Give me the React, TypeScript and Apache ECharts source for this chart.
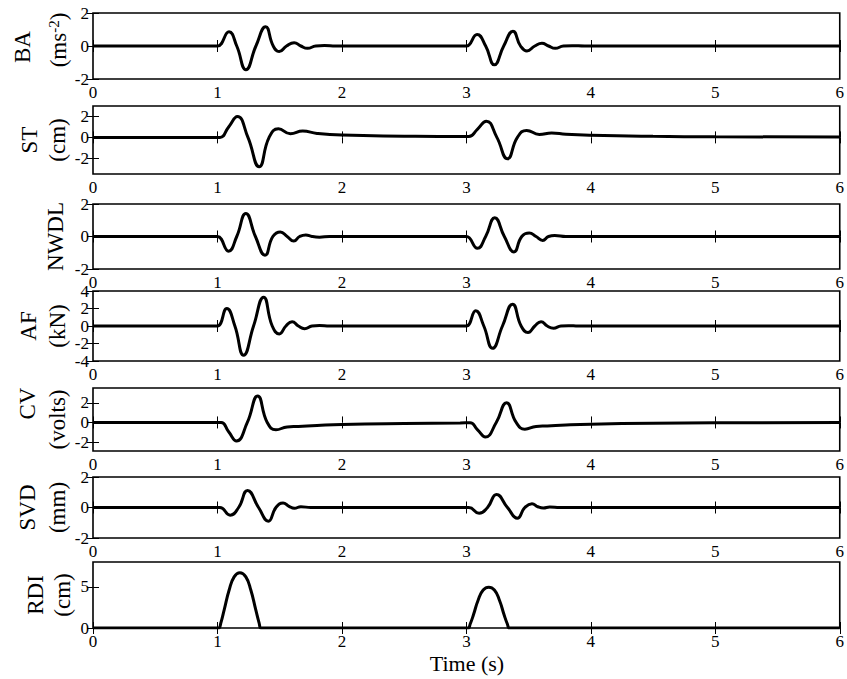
import React, { useEffect, useRef } from "react";
import * as echarts from "echarts";

const FONT = '"Liberation Serif", "Times New Roman", serif';

type Pt = [number, number];

const baData: Pt[] = [[0,0],[0.95,0],[1.0,0],[1.093,0.86],[1.155,0],[1.229,-1.44],[1.309,0],[1.387,1.16],[1.448,0],[1.496,-0.34],[1.555,0],[1.616,0.2],[1.67,0],[1.723,-0.14],[1.79,0],[1.86,0.03],[1.95,0],[2.5,0],[2.95,0],[3.0,0],[3.086,0.7],[3.155,0],[3.225,-1.14],[3.3,0],[3.374,0.9],[3.435,0],[3.487,-0.3],[3.55,0],[3.607,0.16],[3.66,0],[3.714,-0.14],[3.78,0],[3.85,0.02],[3.95,0],[4.5,0],[6,0]];

const stData: Pt[] = [[0,0],[0.97,0],[1.02,0],[1.09,1.0],[1.16,2.0],[1.245,0],[1.335,-2.8],[1.415,0],[1.49,0.83],[1.586,0.35],[1.685,0.6],[1.8,0.38],[2.0,0.22],[2.5,0.12],[2.97,0.08],[3.02,0.08],[3.09,0.8],[3.16,1.55],[3.245,0],[3.33,-2.05],[3.41,0],[3.484,0.67],[3.586,0.28],[3.685,0.43],[3.8,0.3],[4.0,0.2],[4.5,0.1],[5.0,0.06],[6,0.03]];

const nwdlData: Pt[] = [[0,0],[0.95,0],[1.0,0],[1.089,-0.9],[1.155,0],[1.228,1.42],[1.305,0],[1.382,-1.15],[1.445,0],[1.505,0.28],[1.56,0],[1.613,-0.28],[1.66,0],[1.71,0.1],[1.76,0],[1.82,-0.04],[1.9,0],[2.95,0],[3.0,0],[3.089,-0.72],[3.155,0],[3.228,1.15],[3.305,0],[3.382,-0.95],[3.445,0],[3.505,0.22],[3.56,0],[3.613,-0.24],[3.66,0],[3.71,0.06],[3.8,0],[6,0]];

const afData: Pt[] = [[0,0],[0.95,0],[1.0,0],[1.075,2.0],[1.14,0],[1.21,-3.35],[1.29,0],[1.371,3.3],[1.44,0],[1.497,-0.9],[1.55,0],[1.6,0.5],[1.65,0],[1.7,-0.3],[1.76,0],[1.82,0.05],[1.9,0],[2.95,0],[3.0,0],[3.075,1.75],[3.14,0],[3.21,-2.55],[3.29,0],[3.371,2.5],[3.44,0],[3.495,-0.75],[3.55,0],[3.6,0.5],[3.65,0],[3.7,-0.25],[3.76,0],[3.82,0.04],[3.9,0],[6,0]];

const cvData: Pt[] = [[0,0],[0.97,0],[1.03,0],[1.09,-0.95],[1.153,-1.88],[1.24,0],[1.323,2.7],[1.4,0],[1.47,-0.75],[1.56,-0.45],[1.65,-0.4],[1.8,-0.3],[2.0,-0.2],[2.5,-0.1],[2.95,-0.05],[3.03,-0.03],[3.09,-0.75],[3.153,-1.48],[3.24,0],[3.323,2.0],[3.4,0],[3.47,-0.68],[3.56,-0.4],[3.65,-0.35],[3.8,-0.25],[4.0,-0.17],[4.5,-0.08],[5.0,-0.03],[6,0]];

const svdData: Pt[] = [[0,0],[0.97,0],[1.02,0],[1.102,-0.5],[1.17,0],[1.242,1.12],[1.33,0],[1.409,-0.9],[1.47,0],[1.527,0.3],[1.575,0.08],[1.618,-0.05],[1.67,0.05],[1.75,0],[2.97,0],[3.02,0],[3.102,-0.38],[3.17,0],[3.242,0.86],[3.33,0],[3.409,-0.7],[3.47,0],[3.527,0.25],[3.575,0.05],[3.618,-0.03],[3.67,0.03],[3.75,0],[6,0]];

const rdiData: Pt[] = [[0,0],[0.98,0],[1.01,0],[1.027,0.6],[1.054,2.2],[1.094,4.6],[1.134,6.2],[1.18,6.7],[1.228,6.2],[1.268,4.6],[1.308,2.2],[1.335,0.6],[1.35,0],[1.38,0],[2.98,0],[3.015,0],[3.03,0.45],[3.057,1.6],[3.095,3.4],[3.135,4.6],[3.18,4.95],[3.225,4.6],[3.265,3.4],[3.303,1.6],[3.33,0.45],[3.345,0],[3.38,0],[6,0]];

const labelLine1 = ["BA", "ST", "", "AF", "CV", "SVD", "RDI"];
const labelLine2 = ["{a|(ms}{s|-2}{a|)}", "(cm)", "NWDL", "(kN)", "(volts)", "(mm)", "(cm)"];
const yMins = [-2, -3.5, -2, -4, -2.9, -2, 0];
const yMaxs = [2, 3, 2, 4, 3.5, 2, 8];
const yTicks = [[-2, 0, 2], [-2, 0, 2], [-2, 0, 2], [-4, -2, 0, 2, 4], [-2, 0, 2], [-2, 0, 2], [0, 5]];
const seriesData = [baData, stData, nwdlData, afData, cvData, svdData, rdiData];
const xTitle = "Time (s)";

// layout (pixels)
const panelTops = [13, 106, 204, 291, 388, 477, 562];
const panelHeights = [66, 68, 65, 70, 63, 61, 66];
const line1X = [22, 29, 0, 28, 27, 27, 35];
const line2X = [58, 57, 55, 57, 57, 57, 62];
const line1DY = [1, 0, 0, 0, -16, 0, 0];
const line2DY = [-6, 0, 0, 0, 0, 0, 0];

export default function App() {
  const ref = useRef<HTMLDivElement>(null);
  useEffect(() => {
    if (!ref.current) return;
    const chart = echarts.init(ref.current, null, { renderer: "svg" });
    const grids: any[] = [];
    const xAxes: any[] = [];
    const yAxes: any[] = [];
    const series: any[] = [];
    const graphics: any[] = [];
    const tickStyle = { color: "#000", width: 1 };
    for (let i = 0; i < 7; i++) {
      grids.push({
        left: 93, width: 749, top: panelTops[i], height: panelHeights[i],
        show: true, borderColor: "#000", borderWidth: 1.6, backgroundColor: "transparent",
      });
      const xBase = {
        gridIndex: i, type: "value", min: 0, max: 6, interval: 1,
        axisLine: { show: false }, splitLine: { show: false },
        axisTick: { inside: true, length: 6, lineStyle: tickStyle },
      };
      xAxes.push({ ...xBase, position: "bottom",
        axisLabel: { fontFamily: FONT, fontSize: 17, color: "#000", margin: 5 } });
      xAxes.push({ ...xBase, position: "top", axisLabel: { show: false } });
      const yBase = {
        gridIndex: i, type: "value", min: yMins[i], max: yMaxs[i],
        axisLine: { show: false }, splitLine: { show: false },
        axisTick: { inside: true, length: 6, lineStyle: tickStyle, customValues: yTicks[i] },
      };
      yAxes.push({ ...yBase, position: "left",
        axisLabel: { customValues: yTicks[i], fontFamily: FONT, fontSize: 17, color: "#000", margin: 4 } });
      yAxes.push({ ...yBase, position: "right", axisLabel: { show: false } });
      series.push({
        type: "line", xAxisIndex: 2 * i, yAxisIndex: 2 * i, data: seriesData[i],
        showSymbol: false, smooth: 0.5, clip: true,
        lineStyle: { color: "#000", width: 3 }, silent: true,
      });
      const cy = panelTops[i] + panelHeights[i] / 2;
      if (labelLine1[i]) {
        graphics.push({
          type: "text", x: line1X[i], y: cy + line1DY[i], rotation: Math.PI / 2,
          style: { text: labelLine1[i], fontFamily: FONT, fontSize: 23, fill: "#000",
            align: "center", verticalAlign: "middle", textAlign: "center", textVerticalAlign: "middle" },
        });
      }
      graphics.push({
        type: "text", x: line2X[i], y: cy + line2DY[i], rotation: Math.PI / 2,
        style: { text: labelLine2[i], fontFamily: FONT, fontSize: 23, fill: "#000",
          align: "center", verticalAlign: "middle", textAlign: "center", textVerticalAlign: "middle",
          rich: {
            a: { fontFamily: FONT, fontSize: 23, lineHeight: 23, verticalAlign: "bottom", padding: [0, 0, 0, 0] },
            s: { fontFamily: FONT, fontSize: 15, lineHeight: 15, verticalAlign: "top", padding: [0, 0, 12, 0] },
          } },
      });
    }
    graphics.push({
      type: "text", x: 467, y: 663,
      style: { text: xTitle, fontFamily: FONT, fontSize: 22, fill: "#000",
        align: "center", verticalAlign: "middle", textAlign: "center", textVerticalAlign: "middle" },
    });
    chart.setOption({
      animation: false,
      backgroundColor: "#fff",
      grid: grids, xAxis: xAxes, yAxis: yAxes, series, graphic: graphics,
    });
    return () => chart.dispose();
  }, []);
  return <div ref={ref} style={{ position: "absolute", left: 0, top: 0, width: 847, height: 679 }} />;
}
